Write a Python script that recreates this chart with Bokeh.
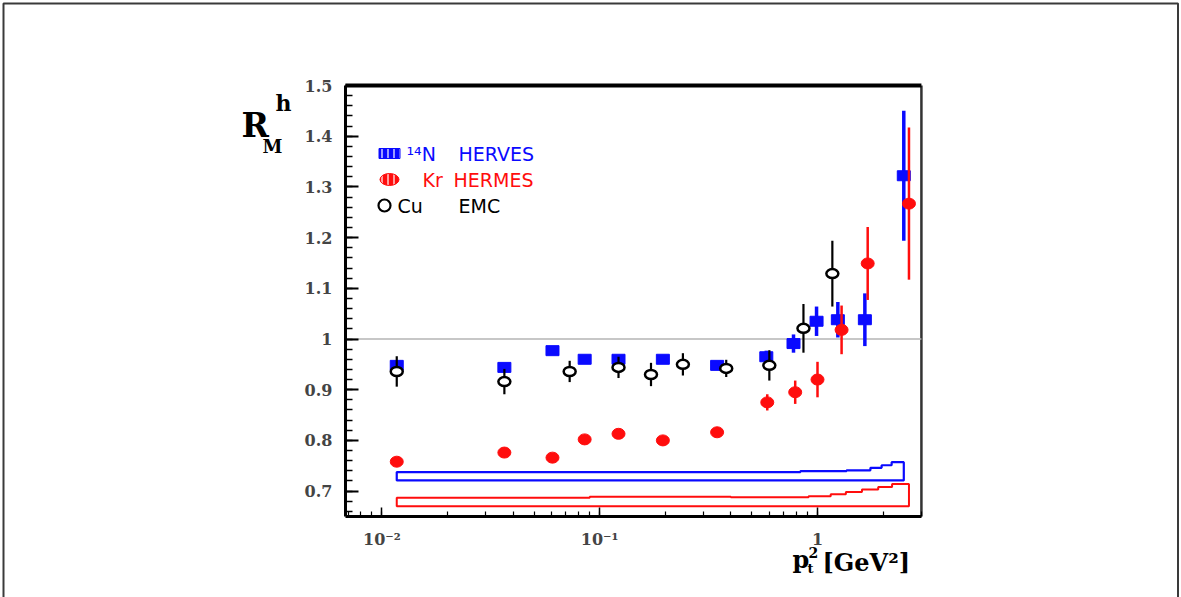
import numpy as np
from bokeh.plotting import figure
from bokeh.models import (Label, SingleIntervalTicker, CustomJSTickFormatter,
                          ColumnDataSource, Range1d)
from bokeh.embed import file_html
from bokeh.resources import INLINE

# ---------------- data ----------------
n_x = [0.0117, 0.0365, 0.0607, 0.0853, 0.122, 0.195, 0.346, 0.582, 0.776, 0.99, 1.24, 1.65, 2.49]
n_y = [0.948, 0.944, 0.977, 0.960, 0.960, 0.960, 0.948, 0.965, 0.991, 1.035, 1.038, 1.038, 1.322]
n_err = [0.008, 0.008, 0.006, 0.006, 0.008, 0.006, 0.008, 0.012, 0.018, 0.029, 0.035, 0.052, 0.128]

kr_x = [0.0117, 0.0365, 0.0607, 0.0853, 0.122, 0.195, 0.346, 0.588, 0.79, 1.0, 1.29, 1.70, 2.63]
kr_y = [0.758, 0.776, 0.766, 0.802, 0.813, 0.800, 0.816, 0.875, 0.895, 0.920, 1.018, 1.149, 1.267]
kr_err = [0.004, 0.004, 0.004, 0.008, 0.005, 0.004, 0.004, 0.016, 0.023, 0.035, 0.048, 0.072, 0.150]

cu_x = [0.0117, 0.0365, 0.0728, 0.122, 0.172, 0.241, 0.381, 0.601, 0.862, 1.17]
cu_y = [0.936, 0.916, 0.936, 0.944, 0.930, 0.950, 0.942, 0.948, 1.021, 1.129]
cu_err = [0.030, 0.025, 0.021, 0.021, 0.023, 0.022, 0.017, 0.030, 0.048, 0.065]

# systematic-uncertainty bands (step histograms)
n_band_edges = [0.0117, 0.835, 1.36, 1.75, 1.97, 2.19, 2.49]
n_band_top = [0.7375, 0.7395, 0.741, 0.746, 0.751, 0.757]
n_band_base = 0.721

kr_band_edges = [0.0117, 0.090, 0.40, 0.91, 1.15, 1.35, 1.60, 1.90, 2.20, 2.63]
kr_band_top = [0.687, 0.689, 0.688, 0.690, 0.694, 0.698, 0.703, 0.708, 0.714]
kr_band_base = 0.670

legend_labels = [["\u00b9\u2074N", "HERVES"], ["Kr", "HERMES"], ["Cu", "EMC"]]

# plot box (data limits of the axes)
X_MIN, X_MAX = 0.0068, 3.0
Y_MIN, Y_MAX = 0.65, 1.5

BLUE = "#0a0aff"
RED = "#ff0d0d"
SERIF = "DejaVu Serif"
SANS = "DejaVu Sans"

W, H = 1181, 597

# page-pixel helpers (the frame covers the whole canvas)
def px_to_x(px):
    return 10 ** ((px - 817.0) / 217.8)

def py_to_y(py):
    return 1.5 - (py - 85.0) / 507.0

def band_polygon(edges, tops, base):
    xs = [edges[0]]
    ys = [base]
    for i, t in enumerate(tops):
        xs += [edges[i], edges[i + 1]]
        ys += [t, t]
    xs += [edges[-1]]
    ys += [base]
    return xs, ys

# ---------------- figure ----------------
p = figure(x_axis_type="log",
           x_range=Range1d(px_to_x(0), px_to_x(W)), y_range=Range1d(py_to_y(H), py_to_y(0)),
           width=W, height=H, min_border=0,
           output_backend="svg", toolbar_location=None)
p.grid.visible = False
p.background_fill_color = "white"
p.border_fill_color = "white"
p.outline_line_color = None

# y axis, pinned to the left edge of the plot box
ya = p.yaxis[0]
ya.fixed_location = X_MIN
ya.bounds = (Y_MIN, Y_MAX)
ya.ticker = SingleIntervalTicker(interval=0.1, num_minor_ticks=5)
ya.formatter = CustomJSTickFormatter(code="return tick.toFixed(1).replace(/\\.0$/, '');")
ya.major_tick_in = 13
ya.major_tick_out = 0
ya.minor_tick_in = 7
ya.minor_tick_out = 0
ya.axis_line_width = 3
ya.major_tick_line_width = 2
ya.minor_tick_line_width = 1.5
ya.major_label_text_font = SERIF
ya.major_label_text_font_style = "bold"
ya.major_label_text_font_size = "16px"
ya.major_label_standoff = 13

# x axis, pinned to the bottom edge of the plot box
xa = p.xaxis[0]
xa.fixed_location = Y_MIN
xa.bounds = (X_MIN, X_MAX)
xa.formatter = CustomJSTickFormatter(code="""
const e = Math.round(Math.log10(tick));
if (e == 0) { return '1'; }
const sup = {'-':'\u207b','0':'\u2070','1':'\u00b9','2':'\u00b2','3':'\u00b3','4':'\u2074','5':'\u2075','6':'\u2076','7':'\u2077','8':'\u2078','9':'\u2079'};
return '10' + String(e).split('').map(c => sup[c]).join('');
""")
xa.major_tick_in = 9
xa.major_tick_out = 0
xa.minor_tick_in = 5
xa.minor_tick_out = 0
xa.axis_line_width = 3
xa.major_tick_line_width = 1.5
xa.minor_tick_line_width = 1.2
xa.major_label_text_font = SERIF
xa.major_label_text_font_style = "bold"
xa.major_label_text_font_size = "16px"
xa.major_label_standoff = 14

# plot box: right side and thick top side
p.segment([X_MAX], [Y_MIN], [X_MAX], [Y_MAX], line_color="#333333", line_width=2.5)
p.segment([X_MIN], [Y_MAX], [X_MAX], [Y_MAX], line_color="black", line_width=4)

# reference line at 1
p.segment([X_MIN], [1.0], [X_MAX], [1.0], line_color="#b4b4b4", line_width=1.5)

# outer page border (top, left, right)
p.line([px_to_x(3), px_to_x(3), px_to_x(1177.5), px_to_x(1177.5)],
       [py_to_y(H + 5), py_to_y(3), py_to_y(3), py_to_y(H + 5)],
       line_color="#3a3a3a", line_width=2)

# bands
bx, by = band_polygon(n_band_edges, n_band_top, n_band_base)
p.patch(bx, by, fill_color=None, line_color=BLUE, line_width=2.2)
rx, ry = band_polygon(kr_band_edges, kr_band_top, kr_band_base)
p.patch(rx, ry, fill_color=None, line_color=RED, line_width=2.0)

# N HERMES
n_src = ColumnDataSource(dict(x=n_x, y=n_y, lo=np.array(n_y) - np.array(n_err),
                              hi=np.array(n_y) + np.array(n_err)))
p.segment("x", "lo", "x", "hi", source=n_src, line_color=BLUE, line_width=3.5)
p.rect("x", "y", width=13, height=10, width_units="screen", height_units="screen",
       source=n_src, fill_color=BLUE, line_color=BLUE)

# Kr HERMES
kr_src = ColumnDataSource(dict(x=kr_x, y=kr_y, lo=np.array(kr_y) - np.array(kr_err),
                               hi=np.array(kr_y) + np.array(kr_err)))
p.segment("x", "lo", "x", "hi", source=kr_src, line_color=RED, line_width=2.5)
p.ellipse("x", "y", width=13, height=11, width_units="screen", height_units="screen",
          source=kr_src, fill_color=RED, line_color=RED)

# Cu EMC
cu_src = ColumnDataSource(dict(x=cu_x, y=cu_y, lo=np.array(cu_y) - np.array(cu_err),
                               hi=np.array(cu_y) + np.array(cu_err)))
p.segment("x", "lo", "x", "hi", source=cu_src, line_color="black", line_width=2.2)
p.ellipse("x", "y", width=12, height=9, width_units="screen", height_units="screen",
          source=cu_src, fill_color="white", line_color="black", line_width=2.5)

# ---------------- legend (drawn by hand, ROOT style) ----------------
row_py = [153, 179, 205]
mx = px_to_x(389)
p.rect([mx], [py_to_y(row_py[0])], width=21, height=10, width_units="screen", height_units="screen",
       fill_color=BLUE, line_color=BLUE, hatch_pattern="|", hatch_color="white",
       hatch_scale=6, hatch_weight=1.2)
p.ellipse([mx], [py_to_y(row_py[1])], width=19, height=12, width_units="screen", height_units="screen",
          fill_color=RED, line_color=RED, hatch_pattern="|", hatch_color="white",
          hatch_scale=6, hatch_weight=1.2)
p.ellipse([px_to_x(384)], [py_to_y(row_py[2])], width=12, height=12, width_units="screen",
          height_units="screen", fill_color="white", line_color="black", line_width=2.2)

legend_px = [[406, 458], [422, 453], [397, 458]]
legend_colors = [BLUE, RED, "black"]
for r in range(3):
    for k in range(2):
        p.add_layout(Label(x=px_to_x(legend_px[r][k]), y=py_to_y(row_py[r]),
                           text=legend_labels[r][k], text_color=legend_colors[r],
                           text_font=SANS, text_font_size="19px", text_baseline="middle",
                           text_align="left"))

# ---------------- axis titles ----------------
def lab(px, py, txt, size, align="left"):
    p.add_layout(Label(x=px_to_x(px), y=py_to_y(py), text=txt, text_font=SERIF,
                       text_font_style="bold", text_font_size=size, text_color="black",
                       text_baseline="alphabetic", text_align=align))

# y title  R^h_M
lab(241, 125, "R", "33px")
lab(275, 102, "h", "22px")
lab(262, 146, "M", "18px")

# x title  p_t^2 [GeV^2]
lab(792, 559, "p", "24px")
lab(807, 568, "t", "13px")
lab(808, 552, "2", "14px")
lab(822, 562, "[GeV\u00b2]", "24px")

open("out.html", "w").write(file_html(p, INLINE))
